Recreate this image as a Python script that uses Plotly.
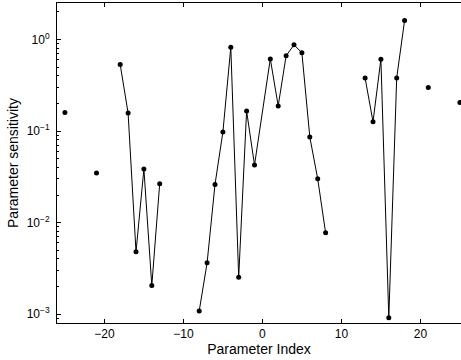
import plotly.graph_objects as go

# Parameter index (0 is not an index) and sensitivity values; None = no data
param_index = [-25, -24, -23, -22, -21, -20, -19, -18, -17, -16, -15, -14, -13,
               -12, -11, -10, -9, -8, -7, -6, -5, -4, -3, -2, -1,
               1, 2, 3, 4, 5, 6, 7, 8, 9, 10, 11, 12,
               13, 14, 15, 16, 17, 18, 19, 20, 21, 22, 23, 24, 25]
sensitivity = [0.159, None, None, None, 0.0347, None, None, 0.532, 0.157, 0.00479, 0.0384, 0.00205, 0.0266,
               None, None, None, None, 0.00108, 0.00363, 0.0261, 0.0975, 0.824, 0.00253, 0.1655, 0.0425,
               0.613, 0.188, 0.662, 0.873, 0.714, 0.086, 0.0301, 0.00773, None, None, None, None,
               0.38, 0.126, 0.609, 0.000912, 0.38, 1.61, None, None, 0.298, None, None, None, 0.205]

x_ticks = [-20, -10, 0, 10, 20]
y_ticks = [1e-3, 1e-2, 1e-1, 1e0]
y_ticklabels = ["10<sup>−3</sup>", "10<sup>−2</sup>", "10<sup>−1</sup>", "10<sup>0</sup>"]
y_minor = [m * d for d in [1e-4, 1e-3, 1e-2, 1e-1, 1e0] for m in range(2, 10)]

fig = go.Figure(go.Scatter(
    x=param_index, y=sensitivity, mode="lines+markers",
    line=dict(color="black", width=1),
    marker=dict(color="black", size=5),
    connectgaps=False, showlegend=False, cliponaxis=False,
))

fig.update_layout(
    width=461, height=360,
    margin=dict(l=57, r=0, t=3, b=37),
    paper_bgcolor="white", plot_bgcolor="white",
    font=dict(family="Liberation Sans, Arial, sans-serif", size=12, color="black"),
)
fig.update_xaxes(
    range=[-26, 25.14], tickvals=x_ticks, ticktext=[str(v).replace("-", "−") for v in x_ticks],
    ticks="inside", ticklen=4, tickwidth=1, tickcolor="black",
    showline=True, linecolor="black", linewidth=1, mirror="ticks",
    showgrid=False, zeroline=False, tickfont=dict(size=12),
    title=dict(text="Parameter Index", font=dict(size=14), standoff=1),
)
fig.update_yaxes(
    type="log", range=[-3.097, 0.398], tickvals=y_ticks, ticktext=y_ticklabels,
    ticks="inside", ticklen=4, tickwidth=1, tickcolor="black",
    showline=True, linecolor="black", linewidth=1, mirror=True,
    showgrid=False, zeroline=False, tickfont=dict(size=12), ticklabelstandoff=4,
    minor=dict(tickvals=y_minor, ticks="inside", ticklen=2, tickcolor="black", showgrid=False),
    title=dict(text="Parameter sensitivity", font=dict(size=14), standoff=4),
)

fig.write_html("out.html")
